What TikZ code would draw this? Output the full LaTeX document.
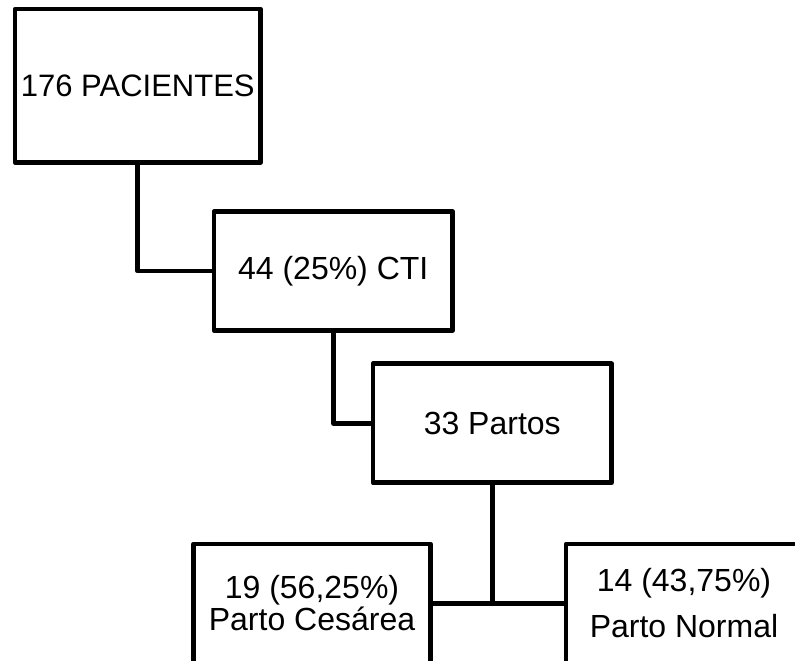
\documentclass[tikz,border=0pt]{standalone}
\usepackage{fontspec}
\setmainfont{Liberation Sans}
\usetikzlibrary{positioning}

\begin{document}
\begin{tikzpicture}[x=1pt,y=-1pt,on grid,line width=4.6pt,line join=round]
    \tikzstyle{box}=[shape=rectangle,draw,inner sep=0pt,minimum width=238.5pt,minimum height=119pt,font=\fontsize{32}{32}\selectfont,align=center]
    \tikzstyle{link}=[draw,line width=4.6pt]

    \clip (0,0) rectangle (795,661);

    \node[box, minimum width=245.5pt, minimum height=153.5pt, font=\fontsize{31}{32}\selectfont] (P) at (137.75,85.75) {176 PACIENTES};
    \node[box, below right=185.25pt and 195.5pt of P] (C) {44 (25\%) CTI};
    \node[box, below right=152.25pt and 159pt of C] (T) {33 Partos};
    \node[box, below left=180.25pt and 180.25pt of T, minimum width=237pt] (S) {19 (56,25\%)\\Parto Cesárea};
    \node[box, right=372pt of S, minimum width=236pt] (N) {14 (43,75\%)\\[14pt]Parto Normal};

    \path[link]
    (P) |- (C)
    (C) |- (T)
    (S) -- (N);
    \draw[link] (T) -- (T |- S);

\end{tikzpicture}
\end{document}
